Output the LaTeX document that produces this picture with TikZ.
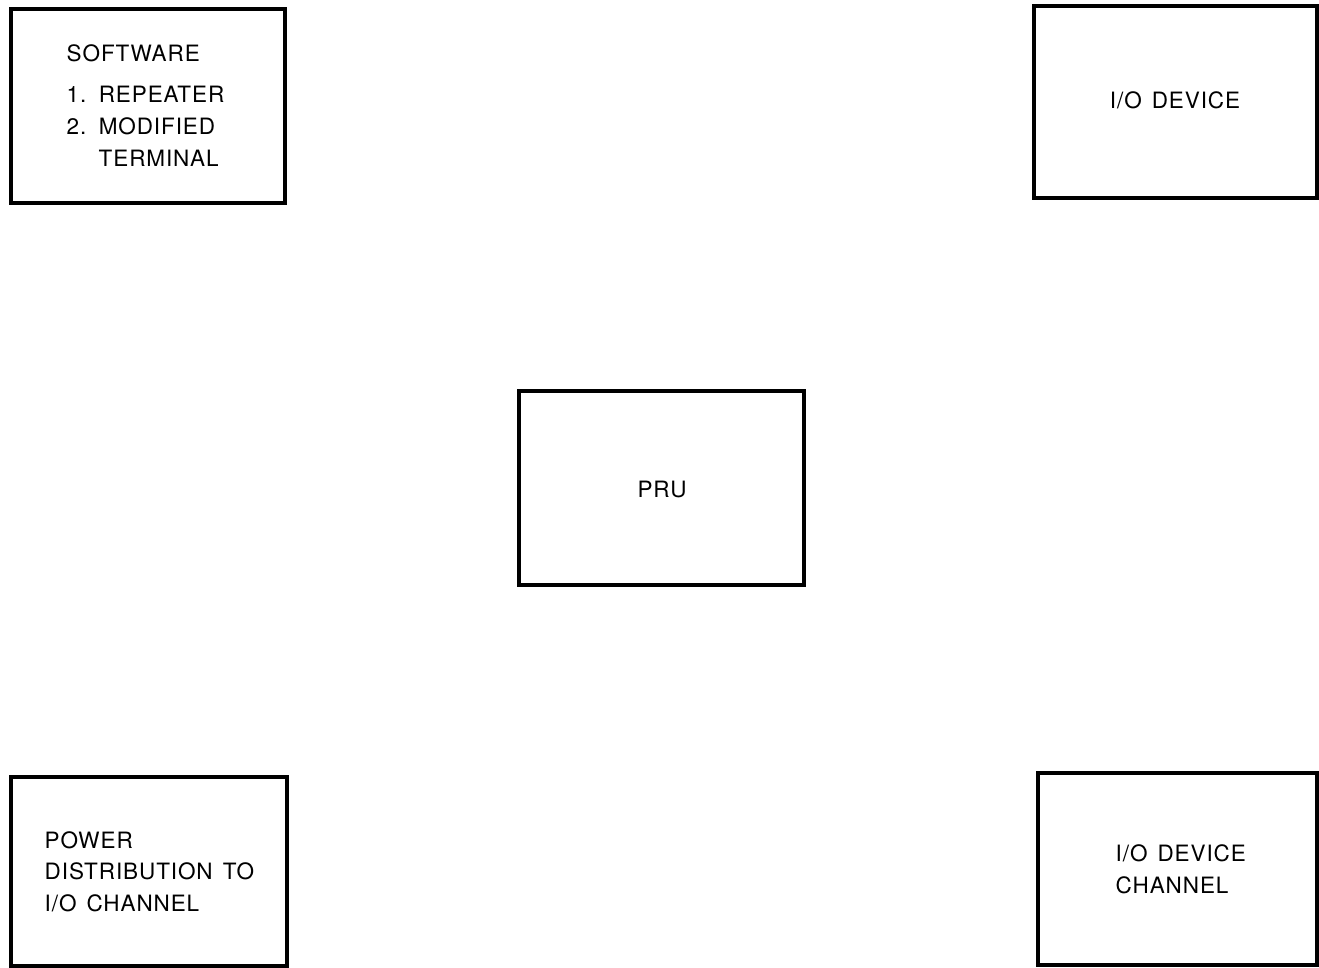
\documentclass[tikz,border=0pt]{standalone}
\usepackage{fontspec}
\setsansfont{TeX Gyre Heros}[LetterSpace=4,WordSpace=1.4]
\begin{document}
\begin{tikzpicture}[x=0.01cm,y=-0.01cm,
  box/.style={draw, line width=1pt, rectangle, inner sep=0pt},
  lbl/.style={font=\sffamily\fontsize{6.4}{9.1}\selectfont, inner sep=0pt, align=left}]
\useasboundingbox (0,0) rectangle (1319,968);
\node[box, minimum width=2.74cm, minimum height=1.94cm] (sw) at (148,106) {};
\node[box, minimum width=2.83cm, minimum height=1.92cm] (io) at (1175.5,102) {};
\node[box, minimum width=2.85cm, minimum height=1.94cm] (pru) at (661.5,488) {};
\node[box, minimum width=2.76cm, minimum height=1.89cm] (pw) at (149,871.5) {};
\node[box, minimum width=2.79cm, minimum height=1.92cm] (ioc) at (1177.5,869) {};
\node[lbl, anchor=west] (t1) at (66,53) {SOFTWARE};
\node[lbl, anchor=west] (t2) at (66,94) {1. REPEATER};
\node[lbl, anchor=west] (t3) at (66,126) {2. MODIFIED};
\node[lbl, anchor=west] (t4) at (98,158) {TERMINAL};
\node[lbl] (t5) at (1175,100) {I/O DEVICE};
\node[lbl] (t6) at (662,490) {PRU};
\node[lbl, anchor=west] (t7) at (44,840) {POWER};
\node[lbl, anchor=west] (t8) at (44,871) {DISTRIBUTION TO};
\node[lbl, anchor=west] (t9) at (44,903) {I/O CHANNEL};
\node[lbl, anchor=west] (t10) at (1115,853) {I/O DEVICE};
\node[lbl, anchor=west] (t11) at (1115,885) {CHANNEL};
\end{tikzpicture}
\end{document}
